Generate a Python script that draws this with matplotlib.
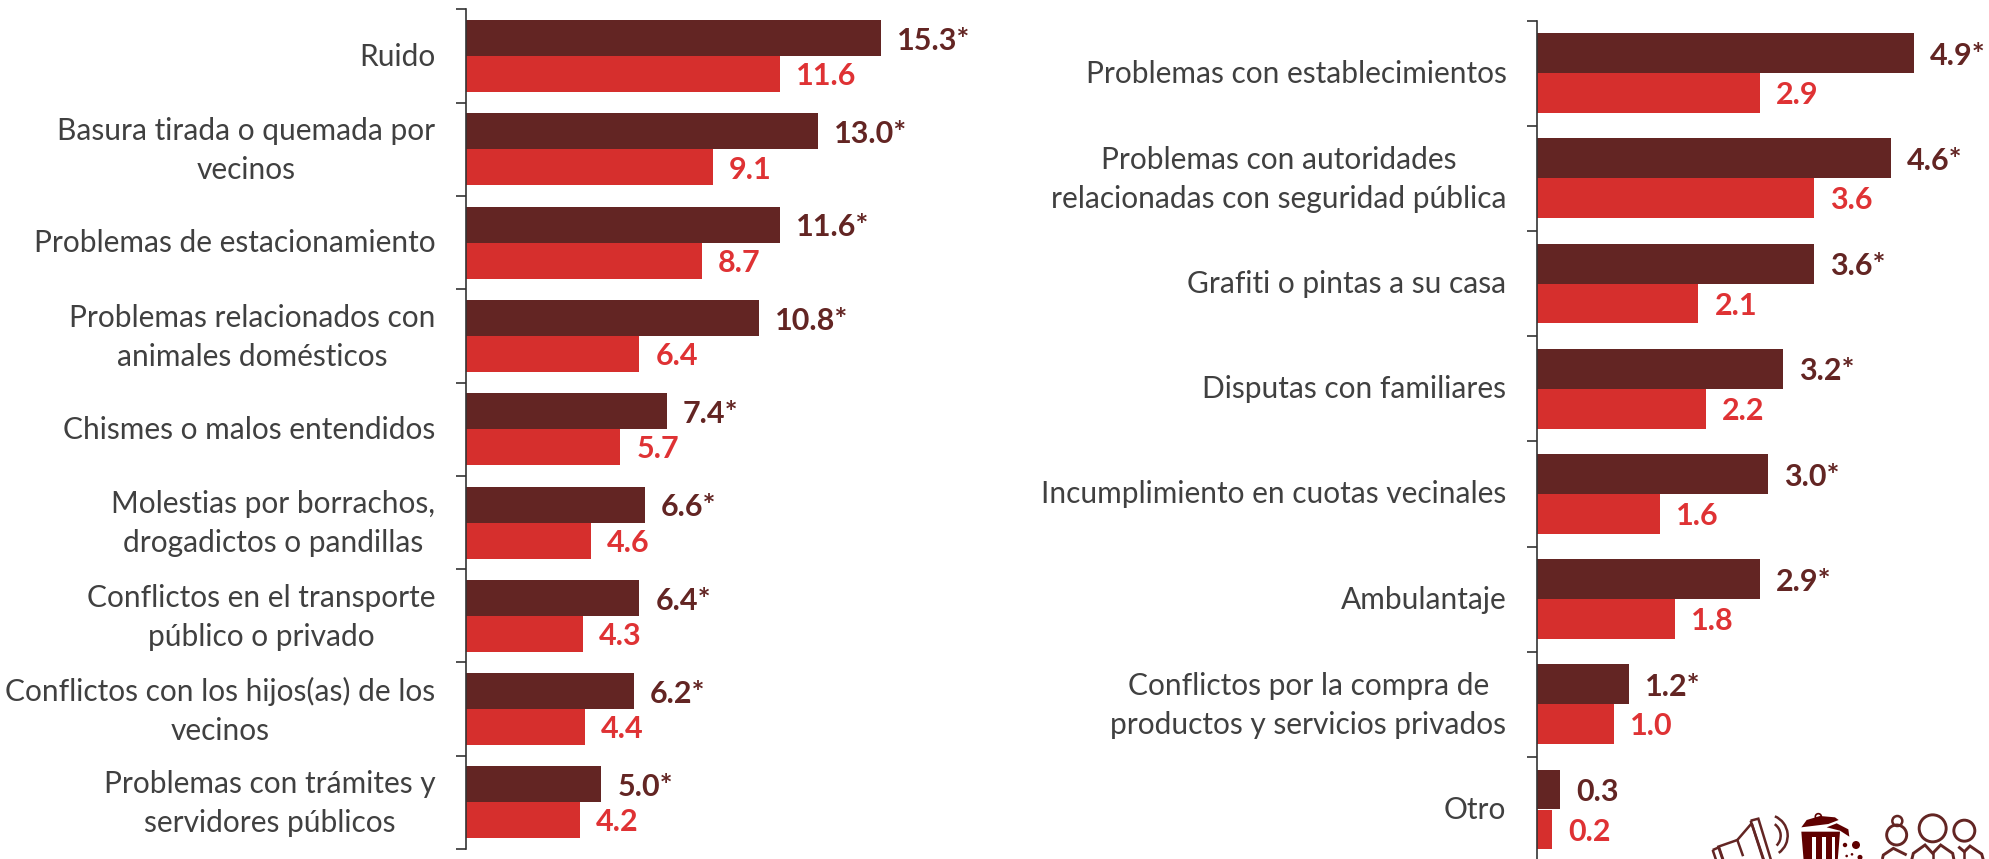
import matplotlib
matplotlib.use('Agg')
import matplotlib.pyplot as plt
from matplotlib.patches import Circle, Polygon, Rectangle, Arc

plt.rcParams['font.family'] = ['Lato', 'DejaVu Sans']

W, H = 1990, 859
DARK = '#632523'
RED = '#D62F2D'
RED_TXT = '#DF3234'
TXT = '#404040'
AXIS = '#333333'

left_cats = ['Ruido', 'Basura tirada o quemada por\nvecinos', 'Problemas de estacionamiento',
             'Problemas relacionados con\nanimales domésticos', 'Chismes o malos entendidos',
             'Molestias por borrachos,\ndrogadictos o pandillas', 'Conflictos en el transporte\npúblico o privado',
             'Conflictos con los hijos(as) de los\nvecinos', 'Problemas con trámites y\nservidores públicos']
left_dark = [15.3, 13.0, 11.6, 10.8, 7.4, 6.6, 6.4, 6.2, 5.0]
left_red = [11.6, 9.1, 8.7, 6.4, 5.7, 4.6, 4.3, 4.4, 4.2]
left_star = [True] * 9

right_cats = ['Problemas con establecimientos', 'Problemas con autoridades\nrelacionadas con seguridad pública',
              'Grafiti o pintas a su casa', 'Disputas con familiares', 'Incumplimiento en cuotas vecinales',
              'Ambulantaje', 'Conflictos por la compra de\nproductos y servicios privados', 'Otro']
right_dark = [4.9, 4.6, 3.6, 3.2, 3.0, 2.9, 1.2, 0.3]
right_red = [2.9, 3.6, 2.1, 2.2, 1.6, 1.8, 1.0, 0.2]
right_star = [True] * 7 + [False]


def px_axes(fig, x0, x1, y0, y1):
    return fig.add_axes([x0 / W, 1 - y1 / H, (x1 - x0) / W, (y1 - y0) / H])


def bars(ax, cats, dark, red, star, xmax, bar_h):
    n = len(cats)
    ys = [i + 0.5 for i in range(n)]
    ax.barh([y - bar_h / 2 for y in ys], dark, height=bar_h, color=DARK)
    ax.barh([y + bar_h / 2 for y in ys], red, height=bar_h, color=RED)
    for i in range(n):
        lab = f'{dark[i]:.1f}' + ('*' if star[i] else '')
        ax.annotate(lab, (dark[i], ys[i] - bar_h / 2), xytext=(11.5, -2), textcoords='offset points',
                    va='center', ha='left', color=DARK, fontsize=22, fontweight='bold')
        ax.annotate(f'{red[i]:.1f}', (red[i], ys[i] + bar_h / 2), xytext=(11.5, -1.5), textcoords='offset points',
                    va='center', ha='left', color=RED_TXT, fontsize=22, fontweight='bold')
        # nudge to line up with the reference text block
        up = -1 if '\n' in cats[i] else -0.3
        ax.annotate(cats[i], (0, ys[i]), xytext=(-22, up), textcoords='offset points', va='center', ha='right',
                    ma='center', color=TXT, fontsize=21.5, linespacing=1.48, annotation_clip=False)
    ax.set_xlim(0, xmax)
    ax.set_ylim(n, 0)
    ax.set_xticks([])
    ax.set_yticks(range(n + 1))
    ax.set_yticklabels([])
    ax.tick_params(axis='y', which='major', length=7, width=1.2, color=AXIS)
    for s in ['top', 'right', 'bottom']:
        ax.spines[s].set_visible(False)
    ax.spines['left'].set_linewidth(1.2)
    ax.spines['left'].set_color(AXIS)


def draw_icons(fig):
    ov = fig.add_axes([0, 0, 1, 1], zorder=5)
    ov.set_xlim(0, W)
    ov.set_ylim(H, 0)
    ov.axis('off')
    ov.patch.set_alpha(0)
    def p(x, y):
        return 1650 + x / 3, 740 + y / 3
    c = DARK
    lw = 1.8
    # megaphone
    ov.add_patch(Polygon([p(*q) for q in [(302, 242), (325, 236), (366, 370), (345, 375)]], fill=False, ec=c, lw=lw))
    ov.add_patch(Polygon([p(*q) for q in [(305, 250), (262, 300), (205, 320), (225, 380), (345, 370)]], fill=False, ec=c, lw=lw))
    ov.add_patch(Polygon([p(*q) for q in [(188, 330), (207, 322), (225, 375), (205, 380)]], fill=False, ec=c, lw=lw))
    ov.plot(*zip(p(262, 300), p(278, 345)), color=c, lw=lw)
    ov.add_patch(Arc(p(350, 287), 28, 28, angle=-5, theta1=-50, theta2=50, ec=c, lw=lw))
    ov.add_patch(Arc(p(350, 287), 42, 42, angle=-5, theta1=-62, theta2=60, ec=c, lw=lw))
    # bin
    bin_c = '#5F0000'
    ov.add_patch(Polygon([p(*q) for q in [(454, 262), (470, 240), (510, 228), (555, 232), (566, 240), (535, 252)]], color=bin_c, lw=0))
    ov.add_patch(Circle(p(505, 230), 3, fill=False, ec=bin_c, lw=1.2))
    ov.add_patch(Polygon([p(*q) for q in [(530, 262), (560, 250), (595, 268), (598, 290), (570, 272)]], color=bin_c, lw=0))
    ov.add_patch(Polygon([p(*q) for q in [(454, 275), (570, 275), (562, 375), (462, 375)]], color=bin_c, lw=0))
    for x in [487, 517, 545]:
        ov.add_patch(Rectangle(p(x, 290), 10 / 3, 30, color='white', lw=0))
    for x, y, r in [(585, 315, 2.2), (618, 315, 4), (590, 348, 1.3), (606, 343, 1.3), (630, 352, 2.5)]:
        ov.add_patch(Circle(p(x, y), r, color=bin_c, lw=0))
    # people
    for x, y, r in [(740, 285, 10), (848, 265, 13.5), (943, 272, 10.5)]:
        ov.add_patch(Circle(p(x, y), r, fill=False, ec=c, lw=lw + 0.3))
    ov.add_patch(Circle(p(742, 243), 5, fill=False, ec=c, lw=lw))
    ov.add_patch(Polygon([p(*q) for q in [(697, 357), (700, 345), (730, 325), (770, 345)]], closed=False, fill=False, ec=c, lw=lw + 0.3))
    ov.add_patch(Polygon([p(*q) for q in [(785, 360), (790, 340), (825, 315), (848, 340), (872, 315), (908, 340), (912, 360)]], closed=False, fill=False, ec=c, lw=lw + 0.3))
    ov.add_patch(Polygon([p(*q) for q in [(925, 320), (943, 335), (960, 318), (995, 342), (1000, 360)]], closed=False, fill=False, ec=c, lw=lw + 0.3))
    ov.plot(*zip(p(848, 340), p(848, 360)), color=c, lw=lw)
    ov.plot(*zip(p(943, 335), p(943, 360)), color=c, lw=lw)


fig = plt.figure(figsize=(W / 100, H / 100), dpi=100)

ax1 = px_axes(fig, 466, 466 + 27.1 * 20, 9.5, 849)
bars(ax1, left_cats, left_dark, left_red, left_star, 20, 0.386)

ax2 = px_axes(fig, 1537, 1537 + 76.9 * 5.5, 20.5, 20.5 + 105.2 * 8)
bars(ax2, right_cats, right_dark, right_red, right_star, 5.5, 0.38)

draw_icons(fig)

fig.savefig('out.png', dpi=100)
